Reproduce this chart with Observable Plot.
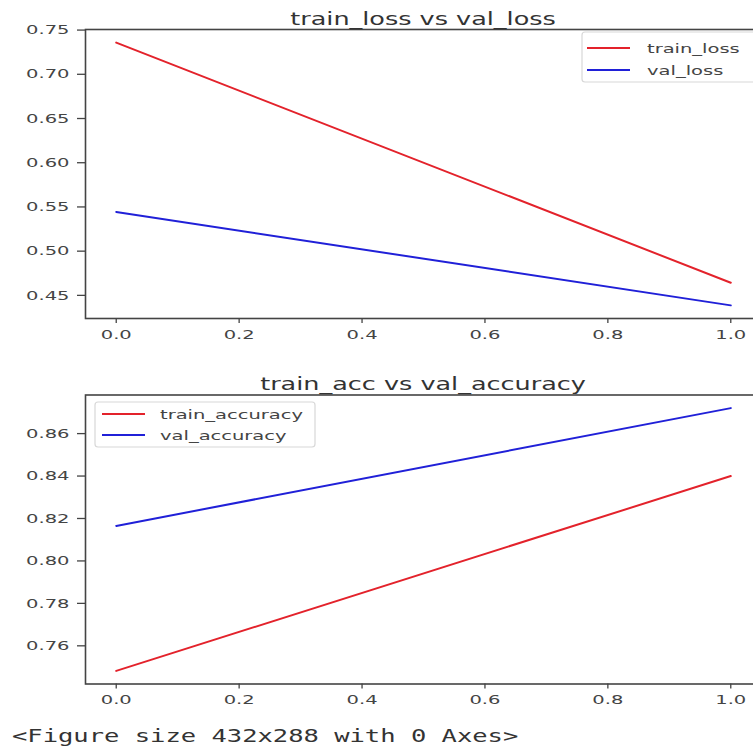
<!DOCTYPE html>
<html>
<head>
<meta charset="utf-8">
<script src="https://cdn.jsdelivr.net/npm/d3@7"></script>
<script src="https://cdn.jsdelivr.net/npm/@observablehq/plot@0.6"></script>
<style>
  html, body { margin: 0; padding: 0; background: #fff; overflow: hidden; }
  #wrap { position: relative; width: 753px; height: 753px; overflow: hidden; }
  .panel { position: absolute; left: 0; width: 771px; }
  .panel svg { max-width: none !important; }
  #overlay { position: absolute; left: 0; top: 0; pointer-events: none; }
</style>
</head>
<body>
<div id="wrap">
  <div id="p1" class="panel" style="top:0px"></div>
  <div id="p2" class="panel" style="top:360px"></div>
  <svg id="overlay" width="753" height="753"></svg>
</div>
<script>
// ---- data ----
const epochs = [0, 1];
const trainLoss = [0.7358, 0.4643];
const valLoss = [0.5443, 0.4387];
const trainAcc = [0.7482, 0.8400];
const valAcc = [0.8165, 0.8720];

const lossNames = ["train_loss", "val_loss"];
const accNames = ["train_accuracy", "val_accuracy"];
const titles = ["train_loss vs val_loss", "train_acc vs val_accuracy"];
const xTicks = [0, 0.2, 0.4, 0.6, 0.8, 1.0];
const lossTicks = [0.45, 0.50, 0.55, 0.60, 0.65, 0.70, 0.75];
const accTicks = [0.76, 0.78, 0.80, 0.82, 0.84, 0.86];
const caption = "<Figure size 432x288 with 0 Axes>";

const RED = "#e3222b";
const BLUE = "#2020d8";
const SX = 1.5; // horizontal stretch of the reference image text

function series(name, ys) { return epochs.map((e, i) => ({epoch: e, value: ys[i], series: name})); }
function padded(arr) {
  const lo = d3.min(arr), hi = d3.max(arr), m = (hi - lo) * 0.05;
  return [lo - m, hi + m];
}

function stretchText(svg) {
  svg.querySelectorAll("text").forEach(el => {
    const t = el.getAttribute("transform") || "";
    let x = parseFloat(el.getAttribute("x"));
    if (!isFinite(x) || /em/.test(el.getAttribute("x") || "")) x = 0;
    el.setAttribute("transform", `${t} translate(${x},0) scale(${SX},1) translate(${-x},0)`);
  });
}

function panel(a, b, names, yTicks, opts) {
  const data = [...series(names[0], a), ...series(names[1], b)];
  const chart = Plot.plot({
    width: 771, height: 350,
    marginLeft: 85, marginRight: 10,
    marginTop: opts.mt, marginBottom: opts.mb,
    style: {fontFamily: "DejaVu Sans", fontSize: "13px", color: "#444", background: "transparent", maxWidth: "none"},
    x: {domain: [-0.05, 1.05], label: null},
    y: {domain: padded([...a, ...b]), label: null},
    marks: [
      Plot.axisX({ticks: xTicks, tickFormat: d3.format(".1f"), tickSize: 5, tickPadding: 6, label: null, stroke: "#444", strokeWidth: 1.3}),
      Plot.axisY({ticks: yTicks, tickFormat: d3.format(".2f"), tickSize: 8, tickPadding: 8, label: null, stroke: "#444", strokeWidth: 1.3}),
      Plot.line(data.filter(d => d.series === names[0]), {x: "epoch", y: "value", stroke: RED, strokeWidth: 2}),
      Plot.line(data.filter(d => d.series === names[1]), {x: "epoch", y: "value", stroke: BLUE, strokeWidth: 2}),
      Plot.frame({stroke: "#444", strokeWidth: 1.6})
    ]
  });
  stretchText(chart);
  return chart;
}

document.getElementById("p1").appendChild(panel(trainLoss, valLoss, lossNames, lossTicks, {mt: 29, mb: 32}));
document.getElementById("p2").appendChild(panel(trainAcc, valAcc, accNames, accTicks, {mt: 34.5, mb: 26.5}));

// ---- overlay: titles, legends, caption ----
const ov = d3.select("#overlay");
function stext(x, y, str, size, family, anchor, color) {
  ov.append("text")
    .attr("transform", `translate(${x},${y}) scale(${SX},1)`)
    .attr("text-anchor", anchor)
    .attr("font-family", family)
    .attr("font-size", size)
    .attr("fill", color)
    .text(str);
}
stext(423, 25, titles[0], 17, "DejaVu Sans", "middle", "#333");
stext(423, 390, titles[1], 17, "DejaVu Sans", "middle", "#333");

function legend(x0, y0, w, h, names, rowYs, lineX0, lineX1, textX) {
  ov.append("rect").attr("x", x0).attr("y", y0).attr("width", w).attr("height", h)
    .attr("rx", 3).attr("fill", "#fff").attr("fill-opacity", 0.85)
    .attr("stroke", "#d8d8d8").attr("stroke-width", 1.2);
  const cols = [RED, BLUE];
  names.forEach((n, i) => {
    ov.append("line").attr("x1", lineX0).attr("x2", lineX1).attr("y1", rowYs[i]).attr("y2", rowYs[i])
      .attr("stroke", cols[i]).attr("stroke-width", 2);
    stext(textX, rowYs[i] + 4.5, n, 13, "DejaVu Sans", "start", "#444");
  });
}
legend(582, 32, 175, 50, lossNames, [48, 70], 587, 630, 647);
legend(95, 402, 220, 45, accNames, [414, 435], 102, 145, 160);

stext(12, 742, caption, 17, "DejaVu Sans Mono", "start", "#333");
</script>
</body>
</html>
